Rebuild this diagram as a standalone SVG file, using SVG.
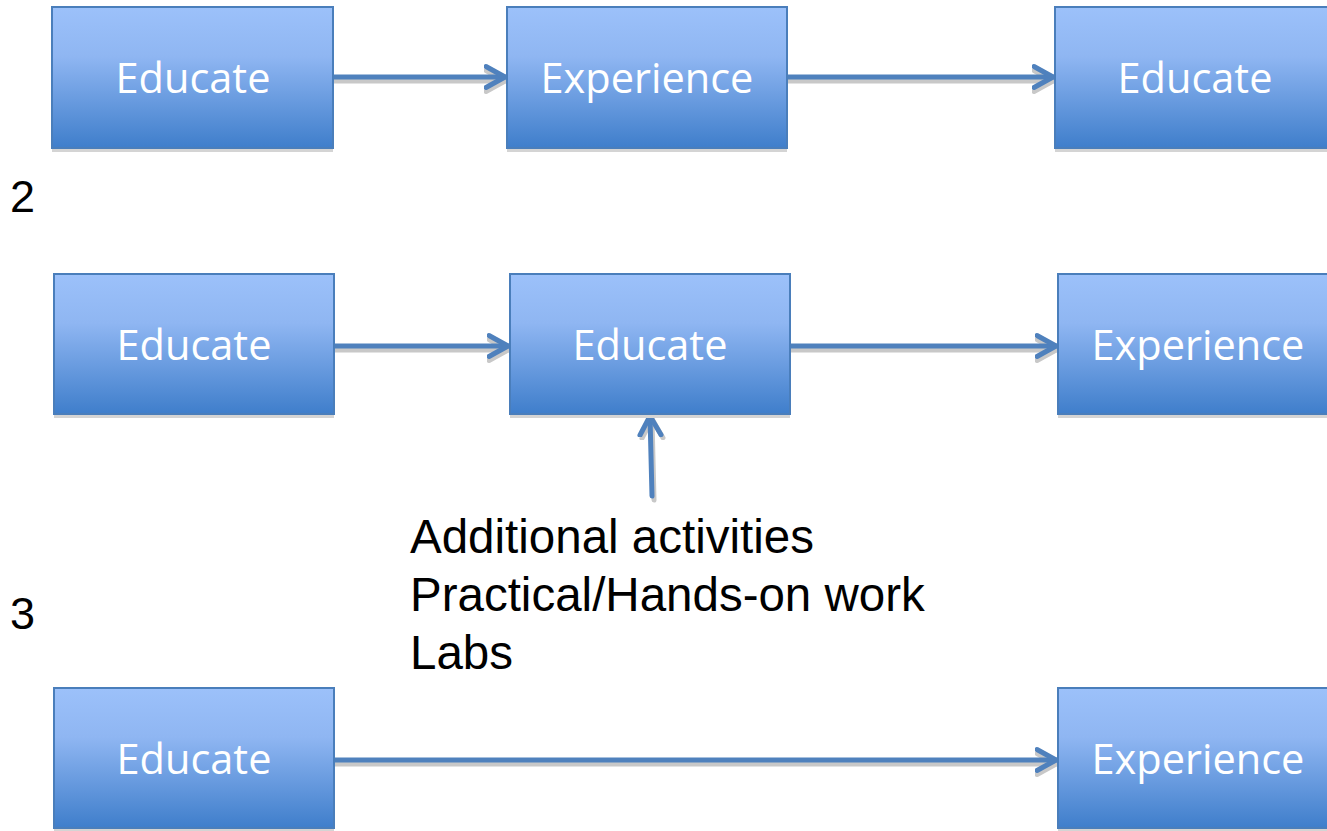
<svg xmlns="http://www.w3.org/2000/svg" width="1327" height="831" viewBox="0 0 1327 831">
<defs>
<linearGradient id="g" x1="0" y1="0" x2="0" y2="1">
<stop offset="0" stop-color="#9cc1fa"/>
<stop offset="0.35" stop-color="#8fb6f2"/>
<stop offset="1" stop-color="#3f7ecb"/>
</linearGradient>
<marker id="ah" markerUnits="userSpaceOnUse" markerWidth="30" markerHeight="30" refX="21" refY="12" orient="auto" viewBox="0 0 30 24">
<path d="M2,1.5 L21,12 L2,22.5" fill="none" stroke="#4f81bd" stroke-width="5" stroke-linecap="round" stroke-linejoin="round"/>
</marker>
<marker id="ahs" markerUnits="userSpaceOnUse" markerWidth="30" markerHeight="30" refX="21" refY="12" orient="auto" viewBox="0 0 30 24">
<path d="M2,1.5 L21,12 L2,22.5" fill="none" stroke="#c8c8c8" stroke-width="5" stroke-linecap="round" stroke-linejoin="round"/>
</marker>
</defs>
<style>
.box{fill:url(#g);stroke:#4a7ebb;stroke-width:2}
.sh{fill:#d4d4d4}
.lbl{font-family:"Open Sans","Noto Sans",sans-serif;font-size:41.5px;fill:#ffffff;text-anchor:middle}
.t{font-family:"Liberation Sans",Arial,sans-serif;font-size:47.5px;fill:#000000}
.n{font-family:"Liberation Sans",Arial,sans-serif;font-size:45px;fill:#000000}
.c{fill:none;stroke:#4f81bd;stroke-width:5;stroke-linecap:round;marker-end:url(#ah)}
.cs{fill:none;stroke:#c8c8c8;stroke-width:5;stroke-linecap:round;marker-end:url(#ahs)}
</style>
<rect width="1327" height="831" fill="#ffffff"/>
<g id="connectors">
<path class="cs" d="M334,81 L505,81"/>
<path class="c" d="M334,77 L505,77"/>
<path class="cs" d="M788,81 L1053,81"/>
<path class="c" d="M788,77 L1053,77"/>
<path class="cs" d="M335,350 L508,350"/>
<path class="c" d="M335,346 L508,346"/>
<path class="cs" d="M791,350 L1056,350"/>
<path class="c" d="M791,346 L1056,346"/>
<path class="cs" d="M654,500 L652,419"/>
<path class="c" d="M652,496 L650,416"/>
<path class="cs" d="M335,764 L1056,764"/>
<path class="c" d="M335,760 L1056,760"/>
</g>
<g id="n1">
<rect class="sh" x="52" y="11" width="281" height="141"/>
<rect class="box" x="52" y="7" width="281" height="141"/>
<text class="lbl" x="193" y="93">Educate</text>
</g>
<g id="n2">
<rect class="sh" x="507" y="11" width="280" height="141"/>
<rect class="box" x="507" y="7" width="280" height="141"/>
<text class="lbl" x="647" y="93">Experience</text>
</g>
<g id="n3">
<rect class="sh" x="1055" y="11" width="290" height="141"/>
<rect class="box" x="1055" y="7" width="290" height="141"/>
<text class="lbl" x="1195" y="93">Educate</text>
</g>
<g id="n4">
<rect class="sh" x="54" y="278" width="280" height="140"/>
<rect class="box" x="54" y="274" width="280" height="140"/>
<text class="lbl" x="194" y="360">Educate</text>
</g>
<g id="n5">
<rect class="sh" x="510" y="278" width="280" height="140"/>
<rect class="box" x="510" y="274" width="280" height="140"/>
<text class="lbl" x="650" y="360">Educate</text>
</g>
<g id="n6">
<rect class="sh" x="1058" y="278" width="290" height="140"/>
<rect class="box" x="1058" y="274" width="290" height="140"/>
<text class="lbl" x="1198" y="360">Experience</text>
</g>
<g id="n7">
<rect class="sh" x="54" y="692" width="280" height="140"/>
<rect class="box" x="54" y="688" width="280" height="140"/>
<text class="lbl" x="194" y="774">Educate</text>
</g>
<g id="n8">
<rect class="sh" x="1058" y="692" width="290" height="140"/>
<rect class="box" x="1058" y="688" width="290" height="140"/>
<text class="lbl" x="1198" y="774">Experience</text>
</g>
<g id="labels">
<text class="n" x="10" y="212">2</text>
<text class="n" x="10" y="629">3</text>
<text class="t" x="410" y="553">Additional activities</text>
<text class="t" x="410" y="611">Practical/Hands-on work</text>
<text class="t" x="410" y="669">Labs</text>
</g>
</svg>
